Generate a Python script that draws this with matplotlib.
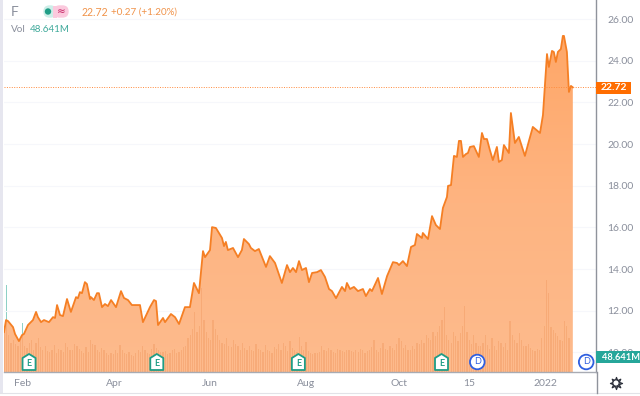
import numpy as np
import matplotlib
matplotlib.use("Agg")
import matplotlib.pyplot as plt
from matplotlib.patches import Rectangle, FancyBboxPatch, Circle, Polygon
from matplotlib.colors import LinearSegmentedColormap

plt.rcParams['font.family'] = ['Lato', 'DejaVu Sans']

# days counted from 1 Feb 2021
price_days = [-12.2,-10.9,-9.6,-6.4,-5.1,-2.6,-0.6,0.6,3.2,6.4,8.4,9.6,11.6,13.5,16.7,19.3,20.6,21.9,23.8,25.7,
 28.3,30.8,34.1,35.3,36.6,37.9,39.8,41.1,43.1,43.7,45.6,47.6,48.8,50.8,52.7,54.6,56.6,59.8,63,64.9,
 67.5,70,75.2,77.1,81.6,84.2,85.5,86.8,90,91.3,95.1,97.7,100.3,104.1,107.3,109.9,113.1,115.7,117,120.2,
 121.5,124,127.9,129.2,130.4,131.7,135,138.2,140.7,142,145.2,146.5,149.1,151.6,156.2,158.7,162,166.4,169.7,171.6,
 173.5,175.5,177.4,179.3,181.9,183.8,185.8,189,191.5,194.1,196.7,198.6,201.2,205,207,208.2,210.2,212.7,215.3,218.5,
 220.4,223,224.3,228.2,230.7,234,237.8,240.4,241.7,244.2,246.8,249.4,251.9,253.2,256.4,257,260.3,262.9,265.4,268,
 269.9,272.5,273.2,275.1,277,278.9,280.2,281.5,282.8,284.7,286,287.3,289.8,293,295,296.3,298.2,300.1,302,304.6,
 305.9,307.8,309.1,312.3,313.6,316.2,318.7,322.6,325.2,327.7,332.3,334.2,336.8,338,340,341.2,342.5,343.8,345.7,347,
 347.7,349.6,350.9,352.2,353.4]
closes = [10.97,11.55,11.50,11.21,10.88,10.54,10.83,10.88,11.31,11.55,11.94,11.69,11.45,11.55,11.45,11.69,11.65,12.27,11.79,11.74,
 12.56,11.94,12.65,12.60,12.89,12.84,13.37,13.28,12.56,12.65,12.51,12.84,12.84,12.17,12.32,12.22,12.51,12.17,12.94,12.61,
 12.51,12.27,12.27,11.45,12.17,12.51,12.46,11.31,11.65,11.45,11.84,11.69,11.36,12.17,12.17,13.33,12.84,14.86,14.57,14.91,
 16.01,15.97,15.49,15.10,15.30,14.91,15.01,14.57,14.91,15.44,15.20,15.01,14.86,14.96,14.10,14.62,14.29,13.33,14.19,13.85,
 14.05,13.85,14.38,13.95,14.05,13.37,13.81,13.85,13.95,13.62,13.04,12.94,12.60,13.14,12.94,13.33,13.04,13.14,12.94,13.04,
 12.70,13.04,12.94,13.57,12.80,13.66,14.33,14.29,14.19,14.38,14.14,15.06,15.15,15.68,15.49,15.73,15.44,16.54,16.11,15.92,
 16.93,17.46,17.99,18.03,19.43,19.38,20.15,20.15,19.38,19.52,19.57,19.86,19.90,19.38,20.53,20.24,20.24,19.71,19.23,19.86,
 19.14,19.23,19.95,19.57,21.49,20.05,20.34,19.43,20.15,20.82,20.53,21.39,24.32,23.70,24.47,24.42,23.94,24.42,24.56,25.19,
 25.19,24.42,22.50,22.79,22.72]

volumes = [150,282,120,95,105,90,85,110,160,85, 78,95,105,70,95,110,80,72,85,68,
 66,70,88,62,75,70,66,95,80,72, 70,92,85,75,68,62,80,66,105,90,
 88,72,65,78,70,62,55,60,58,72, 62,88,70,60,58,66,55,52,60,70,
 66,85,70,62,58,75,92,78,70,66, 65,68,58,62,70,75,60,66,72,80,
 85,110,120,140,195,130,150,272,170,130, 110,105,168,140,120,105,95,90,110,85,
 80,105,90,85,72,95,78,70,85,70, 68,92,74,70,65,88,72,68,62,80,
 75,92,70,95,85,68,100,78,72,66, 113,85,72,98,68,60,58,62,60,65,
 85,72,68,78,70,66,62,75,70,68, 66,70,72,68,64,70,66,75,72,60,
 68,70,82,105,72,66,78,95,74,70, 85,78,72,92,110,100,78,88,70,72,
 85,75,95,90,105,95,120,110,105,130, 115,130,150,170,210,120,105,95,130,115,
 100,125,150,215,130,105,90,120,95,85, 85,95,120,88,75,110,85,70,100,95,
 80,95,70,165,120,105,95,125,105,85, 85,90,78,72,68,75,70,110,150,298,
 255,145,135,125,115,105,100,165,150,110]
volume_days = np.linspace(-12, 351, len(volumes))

month_ticks = [0, 59, 120, 182, 242, 287, 336]
month_labels = ['Feb', 'Apr', 'Jun', 'Aug', 'Oct', '15', '2022']
price_ticks = [10, 12, 14, 16, 18, 20, 22, 24, 26]
earnings_days = [3.9, 86, 177, 269]
dividend_days = [292, 362]
last_price = 22.72
last_volume = 48.641

ORANGE = '#f57f24'
TEAL = '#26a69a'
GREY = '#8a8f9c'

fig = plt.figure(figsize=(6.4, 3.96), dpi=100, facecolor='white')
ax = fig.add_axes([4/640, 24/396, 592/640, 372/396])

# volume, on its own hidden scale: teal where it stands clear of the area
vax = ax.twinx()
vax.set_ylim(0, 1205)
vax.set_yticks([])
for s in vax.spines.values():
    s.set_visible(False)
vax.set_zorder(1)
ax.set_zorder(2)
ax.patch.set_visible(False)
vax.patch.set_visible(False)
vax.bar(volume_days, volumes, width=0.8, color='#8ed0c6', linewidth=0)

ax.set_xlim(-12.2, 368.3)
ax.set_ylim(9.056, 26.914)
ax.yaxis.tick_right()
ax.yaxis.set_label_position('right')
ax.set_yticks(price_ticks)
ax.set_yticklabels(['%.2f' % p for p in price_ticks], fontsize=7.5, color=GREY)
ax.set_xticks(month_ticks)
ax.set_xticklabels(month_labels, fontsize=7.5, color=GREY)
ax.tick_params(axis='both', length=0)
ax.tick_params(axis='y', pad=8)
ax.tick_params(axis='x', pad=5)
ax.grid(axis='y', color='#f6f7fb', lw=0.8)
ax.set_axisbelow(True)
for s in ['top', 'left']:
    ax.spines[s].set_visible(False)
ax.spines['right'].set_color('#8f939c')
ax.spines['bottom'].set_color('#a8abb3')
ax.spines['right'].set_linewidth(1)
ax.spines['bottom'].set_linewidth(1)

# gradient area
cmap = LinearSegmentedColormap.from_list('f', ['#fdbb8d', '#feb481', '#ffa768'])
grad = np.linspace(0, 1, 256).reshape(-1, 1)
im = ax.imshow(grad, aspect='auto', cmap=cmap, origin='lower',
               extent=[-12.2, 353.4, 9.056, 25.3], zorder=2)
area = ax.fill_between(price_days, closes, 9.056, color='none', linewidth=0, zorder=2)
im.set_clip_path(area.get_paths()[0], transform=ax.transData)

# the same volume bars, seen through the area
shaded = ax.bar(volume_days, volumes, width=0.8, color='#f19a62', alpha=0.45, linewidth=0,
                transform=vax.transData, zorder=2.5)
for b in shaded:
    b.set_clip_path(area.get_paths()[0], transform=ax.transData)

ax.set_xlim(-12.2, 368.3)
ax.set_ylim(9.056, 26.914)

ax.plot(price_days, closes, color=ORANGE, lw=1.3, zorder=3, solid_joinstyle='round')
ax.axhline(last_price, color='#ff8a3c', lw=0.7, ls=(0, (1, 1.5)), zorder=3)

# overlay in picture pixels for the chart furniture
ov = fig.add_axes([0, 0, 1, 1], zorder=5)
ov.set_xlim(0, 640)
ov.set_ylim(396, 0)
ov.axis('off')
ov.patch.set_visible(False)

ov.add_patch(Rectangle((0, 0), 3, 393, fc='#e6e6ef', ec='none'))
ov.plot([0, 640], [393, 393], color='#e2e3e8', lw=0.8)
ov.plot([596.5, 596.5], [372, 393], color='#8f939c', lw=1)

# header
ov.text(11, 11.5, 'F', fontsize=10, color='#8a8f9c', va='center', ha='left')
ov.add_patch(FancyBboxPatch((44, 6), 12, 11, boxstyle='round,pad=0,rounding_size=5.5', fc='#cdeee8', ec='#cdeee8', lw=1))
ov.add_patch(FancyBboxPatch((54, 6), 14, 11, boxstyle='round,pad=0,rounding_size=5.5', fc='#fbc9dd', ec='#fbc9dd', lw=1))
ov.add_patch(Rectangle((53, 5.5), 4, 12, fc='#fbc9dd', ec='none'))
ov.add_patch(Circle((48, 11.5), 3.2, fc='#1f9d86', ec='none'))
ov.text(61, 11.5, '≈', fontsize=7.5, color='#c2185b', ha='center', va='center', family='DejaVu Sans')
ov.text(82, 12, '22.72', fontsize=7.6, color='#f0934a', va='center', ha='left')
ov.text(111, 12, '+0.27 (+1.20%)', fontsize=7.1, color='#f0934a', va='center', ha='left')
ov.text(11, 29, 'Vol', fontsize=7.2, color='#8a8f9c', va='center', ha='left')
ov.text(30, 29, '%.3fM' % last_volume, fontsize=7, color='#3fa99a', va='center', ha='left')

# price and volume tags
ov.add_patch(Rectangle((596, 81.5), 35, 12.5, fc='#ff6d00', ec='none'))
ov.text(613.5, 88, '%.2f' % last_price, fontsize=7.5, color='white', fontweight='bold', ha='center', va='center')
ov.add_patch(Rectangle((596, 351), 44, 12, fc=TEAL, ec='none'))
ov.text(602, 357.3, '%.3fM' % last_volume, fontsize=6.7, color='white', fontweight='bold', ha='left', va='center')

# earnings and dividend markers, placed by date
to_px = lambda d: 4 + (d + 12.2) * 592 / 380.5
for d in earnings_days:
    x = to_px(d)
    ov.add_patch(Polygon([(x-6.5, 370), (x+6.5, 370), (x+6.5, 358), (x, 354), (x-6.5, 358)],
                         closed=True, fc='white', ec='#1f9d86', lw=1.3, joinstyle='round'))
    ov.text(x, 363, 'E', fontsize=6.5, color='#1f9d86', ha='center', va='center', fontweight='bold')
for d in dividend_days:
    x = to_px(d)
    ov.add_patch(Circle((x, 362), 7.3, fc='white', ec='#2f5fe0', lw=1.3))
    ov.text(x, 362, 'D', fontsize=6.5, color='#2f5fe0', ha='center', va='center')

# settings gear
ov.scatter([616], [383], marker=(8, 1, 0), s=75, fc='white', ec='#2a2e39', lw=0.9)
ov.add_patch(Circle((616, 383), 3.2, fc='white', ec='#2a2e39', lw=0.9))

fig.savefig('out.png', dpi=100, facecolor='white')
